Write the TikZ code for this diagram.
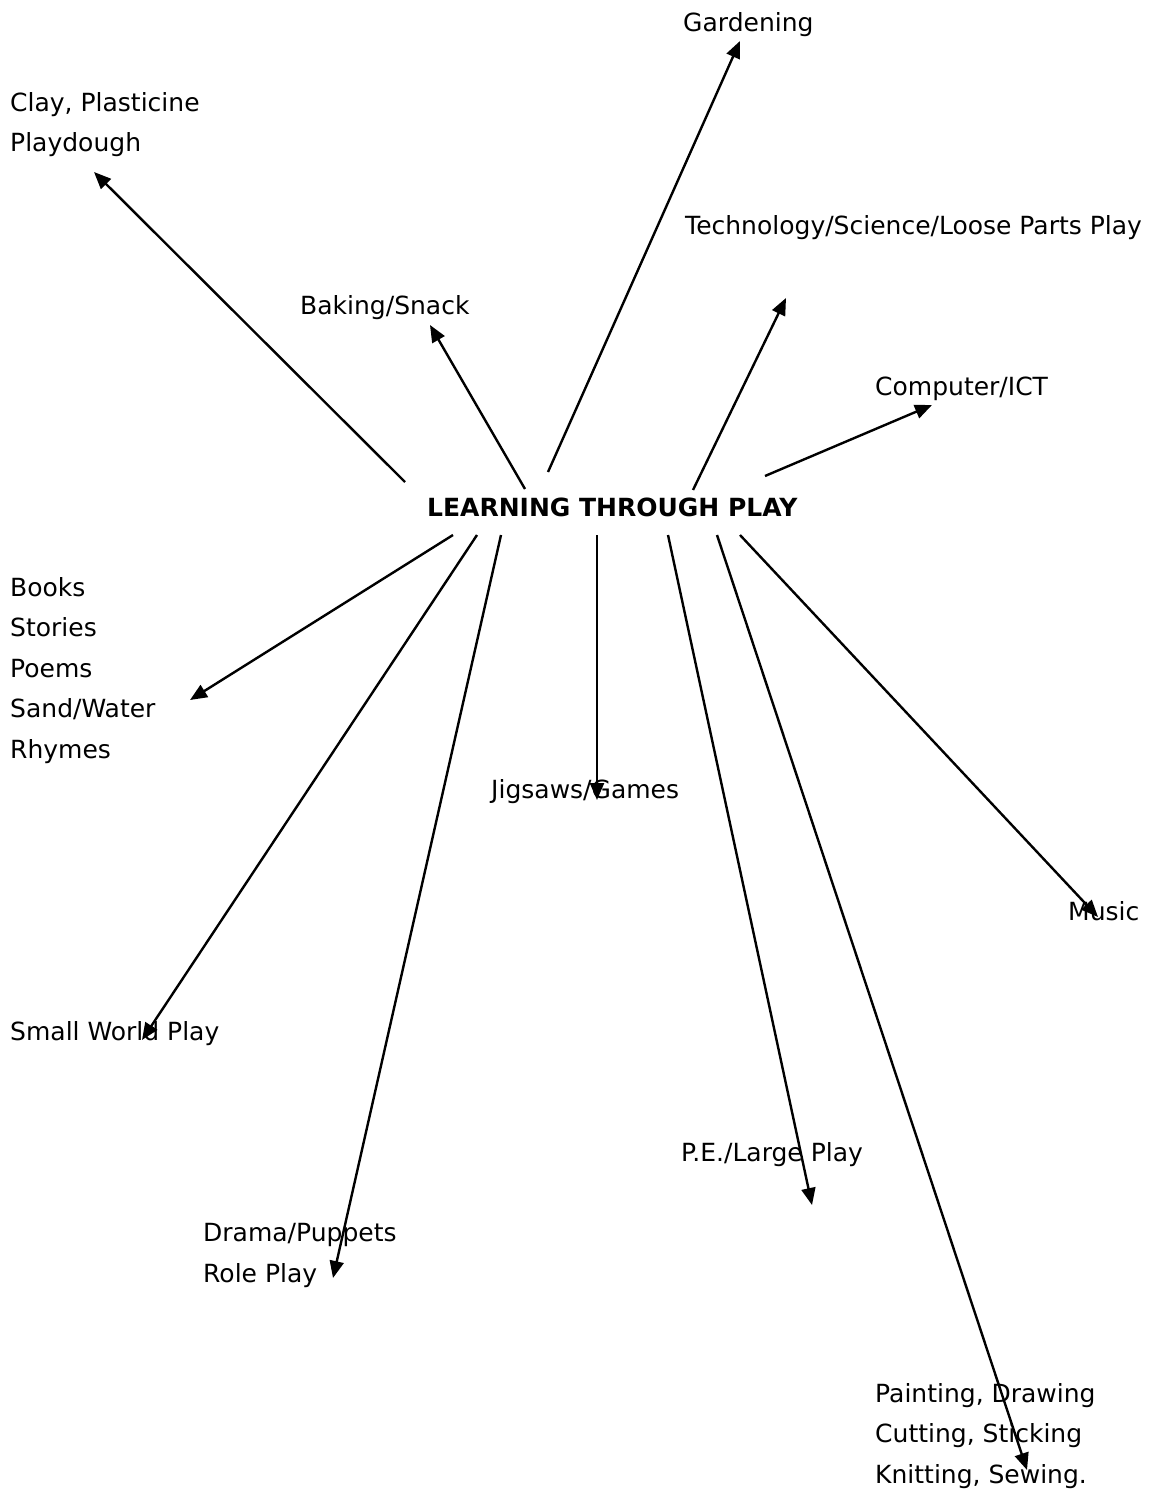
\documentclass[tikz,border=0pt]{standalone}
\usepackage{fontspec}
\setmainfont{DejaVu Sans}
\usetikzlibrary{arrows.meta}
\begin{document}
\begin{tikzpicture}[x=1pt,y=-1pt,
  lbl/.style={anchor=base west,inner sep=0pt,align=left,font=\fontsize{25}{40.5}\selectfont},
  conn/.style={line width=2.4pt,-{Triangle[length=17pt,width=14pt]}}]
\useasboundingbox[fill=white] (0,0) rectangle (1159,1490);
% labels (anchor = baseline of last line)
\node[lbl] (garden) at (683,32) {Gardening};
\node[lbl] (clay) at (10,152) {Clay, Plasticine\\Playdough};
\node[lbl] (tech) at (685,234) {Technology/Science/Loose Parts Play};
\node[lbl] (baking) at (300,314) {Baking/Snack};
\node[lbl] (comp) at (875,395) {Computer/ICT};
\node[lbl,font=\fontsize{25}{30}\selectfont\bfseries] (center) at (427,516) {LEARNING THROUGH PLAY};
\node[lbl] (books) at (10,758) {Books\\Stories\\Poems\\Sand/Water\\Rhymes};
\node[lbl] (jig) at (491,798) {Jigsaws/Games};
\node[lbl] (music) at (1068,920) {Music};
\node[lbl] (small) at (10,1040) {Small World Play};
\node[lbl] (pe) at (681,1161) {P.E./Large Play};
\node[lbl] (drama) at (203,1282) {Drama/Puppets\\Role Play};
\node[lbl] (paint) at (875,1483) {Painting, Drawing\\Cutting, Sticking\\Knitting, Sewing.};
% connector end points
\coordinate (sClay) at (405,482);   \coordinate (eClay) at (94,172);
\coordinate (sBak) at (525,489);    \coordinate (eBak) at (430,325);
\coordinate (sGar) at (548,472);    \coordinate (eGar) at (740,41);
\coordinate (sTech) at (693,490);   \coordinate (eTech) at (786,298);
\coordinate (sComp) at (765,476);   \coordinate (eComp) at (932,405);
\coordinate (sBooks) at (453,535);  \coordinate (eBooks) at (190,700);
\coordinate (sSmall) at (477,535);  \coordinate (eSmall) at (142,1040);
\coordinate (sDrama) at (501,535);  \coordinate (eDrama) at (333,1278);
\coordinate (sJig) at (597,535);    \coordinate (eJig) at (597,800);
\coordinate (sPE) at (668,535);     \coordinate (ePE) at (812,1205);
\coordinate (sPaint) at (717,535);  \coordinate (ePaint) at (1027,1470);
\coordinate (sMusic) at (740,535);  \coordinate (eMusic) at (1098,917);
% connectors
\draw[conn] (sClay) -- (eClay);
\draw[conn] (sBak) -- (eBak);
\draw[conn] (sGar) -- (eGar);
\draw[conn] (sTech) -- (eTech);
\draw[conn] (sComp) -- (eComp);
\draw[conn] (sBooks) -- (eBooks);
\draw[conn] (sSmall) -- (eSmall);
\draw[conn] (sDrama) -- (eDrama);
\draw[conn] (sJig) -- (eJig);
\draw[conn] (sPE) -- (ePE);
\draw[conn] (sPaint) -- (ePaint);
\draw[conn] (sMusic) -- (eMusic);
\end{tikzpicture}
\end{document}
